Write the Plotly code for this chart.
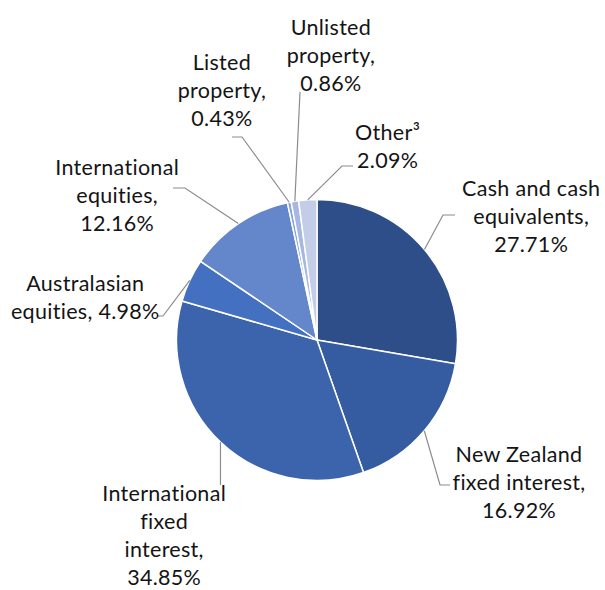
import numpy as np
import plotly.graph_objects as go

# ---- data ----
categories = ["Cash and cash equivalents", "New Zealand fixed interest",
              "International fixed interest", "Australasian equities",
              "International equities", "Listed property",
              "Unlisted property", "Other³"]
values = [27.71, 16.92, 34.85, 4.98, 12.16, 0.43, 0.86, 2.09]
label_lines = [
    ["Cash and cash", "equivalents,"],
    ["New Zealand", "fixed interest,"],
    ["International", "fixed", "interest,"],
    ["Australasian", "equities,"],
    ["International", "equities,"],
    ["Listed", "property,"],
    ["Unlisted", "property,"],
    ["Other³"],
]

# ---- style ----
colors = ["#2E4E8A", "#355BA1", "#3C64AD", "#4470C2", "#6486CA",
          "#8AA2D8", "#A6B8E2", "#C3CDE7"]
W, H = 605, 590
CX, CY, R = 317, 340, 140.5
# label block centres (px) and leader-line waypoints (px)
label_pos = [(531, 216), (519, 482), (164, 535), (85, 297),
             (117, 195), (222, 90), (331, 55), (387, 146)]
leader_pts = [
    [(443, 215), (455, 215)],
    [(440, 485), (450, 485)],
    [(None, 485)],
    [(163, 316), (157, 316)],
    [(185, 188), (173, 188)],
    [(242, 137), (232, 137)],
    [(300, 92)],
    [(342, 166), (353, 166)],
]

def px(x, y):
    return x / W, 1 - y / H

fig = go.Figure(go.Pie(
    labels=categories, values=values, sort=False, direction="clockwise",
    rotation=0, marker=dict(colors=colors, line=dict(color="white", width=1.5)),
    textinfo="none", hoverinfo="label+percent", showlegend=False,
    domain=dict(x=[(CX - R) / W, (CX + R) / W], y=[1 - (CY + R) / H, 1 - (CY - R) / H]),
))

total = sum(values)
cum = np.cumsum([0] + values[:-1])
shapes, annotations = [], []
for i, v in enumerate(values):
    mid = (cum[i] + v / 2) / total * 2 * np.pi
    ex, ey = CX + R * np.sin(mid), CY - R * np.cos(mid)
    pts = [(ex, ey)] + [((ex if x is None else x), y) for x, y in leader_pts[i]]
    path = ""
    for j, (x, y) in enumerate(pts):
        u, w = px(x, y)
        path += ("M" if j == 0 else " L") + f" {u:.5f} {w:.5f}"
    shapes.append(dict(type="path", path=path, xref="paper", yref="paper",
                       line=dict(color="#8C8C8C", width=1.2)))
    lines = list(label_lines[i])
    pct = f"{v:.2f}%"
    if i == 3:
        lines[-1] = lines[-1] + " " + pct
    else:
        lines.append(pct)
    lx, ly = px(*label_pos[i])
    annotations.append(dict(text="<br>".join(lines), x=lx, y=ly, xref="paper", yref="paper",
                            xanchor="center", yanchor="middle", align="center",
                            showarrow=False, font=dict(family="Lato", size=21.5, color="#141414")))

fig.update_layout(width=W, height=H, margin=dict(l=0, r=0, t=0, b=0),
                  paper_bgcolor="white", plot_bgcolor="white",
                  shapes=shapes, annotations=annotations)
post = ("document.body.style.margin='0';document.body.style.overflow='hidden';"
        "var s=document.createElement('style');"
        "s.textContent='svg text, svg tspan{font-variant-ligatures:none !important;letter-spacing:0.3px !important;}';"
        "document.head.appendChild(s);"
        "document.querySelectorAll('text').forEach(function(t){t.style.setProperty('font-variant-ligatures','none','important');t.style.setProperty('letter-spacing','0.3px','important');});")
fig.write_html("out.html", config={"displayModeBar": False}, post_script=post)
